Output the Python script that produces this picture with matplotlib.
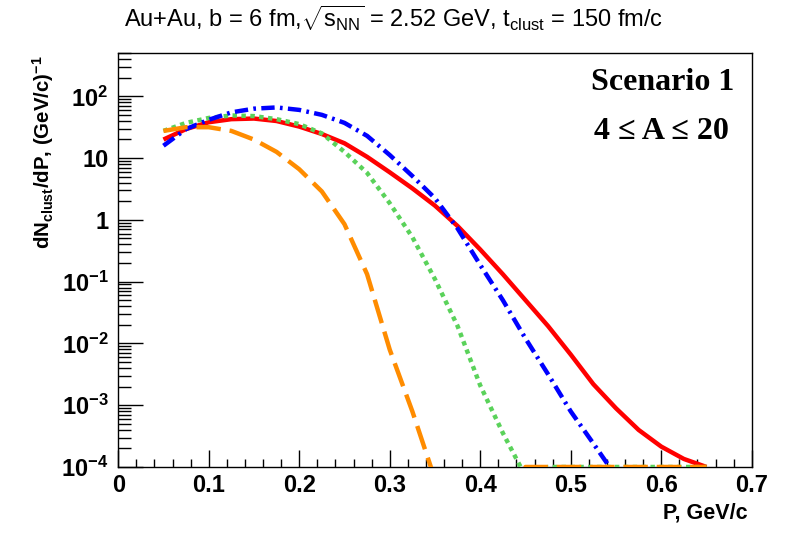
import numpy as np
import matplotlib
matplotlib.use('Agg')
import matplotlib.pyplot as plt
from matplotlib.ticker import FixedLocator, NullFormatter

plt.rcParams['font.family'] = ['Liberation Sans', 'DejaVu Sans']
plt.rcParams['mathtext.fontset'] = 'custom'
plt.rcParams['mathtext.rm'] = 'Liberation Sans'
plt.rcParams['mathtext.it'] = 'Liberation Sans:italic'
plt.rcParams['mathtext.bf'] = 'Liberation Sans:bold'

# momentum grid, GeV/c
p = [0.05, 0.075, 0.1, 0.125, 0.15, 0.175, 0.2, 0.225, 0.25, 0.275, 0.3, 0.325,
     0.35, 0.375, 0.4, 0.425, 0.45, 0.475, 0.5, 0.525, 0.55, 0.575, 0.6, 0.625, 0.65]

# log10(dN/dP); None = curve stops, 'zero' = empty bin
log_red = [1.30, 1.47, 1.58, 1.63, 1.64, 1.60, 1.51, 1.39, 1.24, 1.02, 0.77, 0.51,
           0.23, -0.10, -0.48, -0.88, -1.30, -1.72, -2.18, -2.66, -3.05, -3.40, -3.67, -3.87, -4.0]
log_blue = [1.20, 1.47, 1.62, 1.74, 1.80, 1.82, 1.78, 1.70, 1.57, 1.36, 1.05, 0.71,
            0.35, -0.14, -0.73, -1.30, -1.92, -2.50, -3.10, -3.62, -4.15, None, None, None, None]
log_green = [1.44, 1.57, 1.65, 1.69, 1.68, 1.63, 1.55, 1.40, 1.10, 0.76, 0.27, -0.28,
             -0.96, -1.72, -2.68, -3.45, -4.15, 'zero', 'zero', 'zero', 'zero', 'zero', 'zero', 'zero', 'zero']
log_orange = [1.44, 1.50, 1.50, 1.44, 1.30, 1.10, 0.82, 0.46, -0.07, -0.88, -2.10, -3.10,
              -4.2, -5.0, -5.8, -6.5, 'zero', 'zero', 'zero', 'zero', 'zero', 'zero', 'zero', 'zero', 'zero']

ymin, ymax = 1e-4, 500


def to_values(logs):
    # ROOT puts empty bins on the bottom of a log axis
    out = []
    for v in logs:
        if v is None:
            out.append(np.nan)
        elif v == 'zero':
            out.append(ymin)
        else:
            out.append(10 ** v)
    return np.array(out)


fig = plt.figure(figsize=(7.88, 5.34), dpi=100)
ax = fig.add_axes([0.150, 0.1255, 0.804, 0.775])

ax.plot(p, to_values(log_red), color='#ff0000', lw=3.2, solid_capstyle='butt', zorder=2)
ax.plot(p, to_values(log_green), color='#5ad25a', lw=3.2, dashes=(1.0, 1.0), zorder=3)
ax.plot(p, to_values(log_blue), color='#0000ff', lw=3.2, dashes=(3.0, 1.2, 0.6, 1.2), zorder=4)
ax.plot(p, to_values(log_orange), color='#ff8c00', lw=3.2, dashes=(5.5, 2.0), zorder=5)

ax.set_yscale('log')
ax.set_xlim(0, 0.7)
ax.set_ylim(ymin, ymax)

xt = [0, 0.1, 0.2, 0.3, 0.4, 0.5, 0.6, 0.7]
ax.set_xticks(xt)
ax.set_xticklabels(['0', '0.1', '0.2', '0.3', '0.4', '0.5', '0.6', '0.7'])
ax.xaxis.set_minor_locator(FixedLocator(np.arange(0, 0.7001, 0.02)))

yt = [1e-4, 1e-3, 1e-2, 1e-1, 1, 10, 100]
ax.yaxis.set_major_locator(FixedLocator(yt))
ax.set_yticklabels([r'$\mathbf{10^{-4}}$', r'$\mathbf{10^{-3}}$', r'$\mathbf{10^{-2}}$',
                    r'$\mathbf{10^{-1}}$', '1', '10', r'$\mathbf{10^{2}}$'])
ymin_t = [m * 10.0 ** e for e in range(-4, 3) for m in range(2, 10)]
ax.yaxis.set_minor_locator(FixedLocator(ymin_t))
ax.yaxis.set_minor_formatter(NullFormatter())

ax.tick_params(axis='both', which='major', direction='in', length=18, width=1.0,
               labelsize=17, pad=7)
ax.tick_params(axis='both', which='minor', direction='in', length=9, width=1.0)
ax.tick_params(axis='x', which='major', length=12, pad=5)
ax.tick_params(axis='x', which='minor', length=6)
for lab in ax.get_xticklabels() + ax.get_yticklabels():
    lab.set_fontweight('bold')
for s in ax.spines.values():
    s.set_linewidth(1.0)

fig.text(0.50, 0.966, r'Au+Au, b = 6 fm,$\sqrt{\mathrm{s}_{\mathrm{NN}}}$ = 2.52 GeV, t$_{\mathrm{clust}}$ = 150 fm/c',
         ha='center', va='center', fontsize=17)
fig.text(0.949, 0.040, 'P, GeV/c', ha='right', va='center', fontsize=15.5, fontweight='bold')
fig.text(0.054, 0.897, r'dN$_{\mathbf{clust}}$/dP, (GeV/c)$^{\mathbf{-1}}$', rotation=90,
         ha='center', va='top', fontsize=14.7, fontweight='bold')

ax.text(0.972, 0.93, 'Scenario 1', transform=ax.transAxes, ha='right', va='center',
        fontsize=23, fontweight='bold', family=['Liberation Serif', 'DejaVu Serif'])
ax.text(0.964, 0.81, '4 \u2264 A \u2264 20', transform=ax.transAxes, ha='right', va='center',
        fontsize=23, fontweight='bold', family=['Liberation Serif', 'DejaVu Serif'])

fig.savefig('out.png', dpi=100)
